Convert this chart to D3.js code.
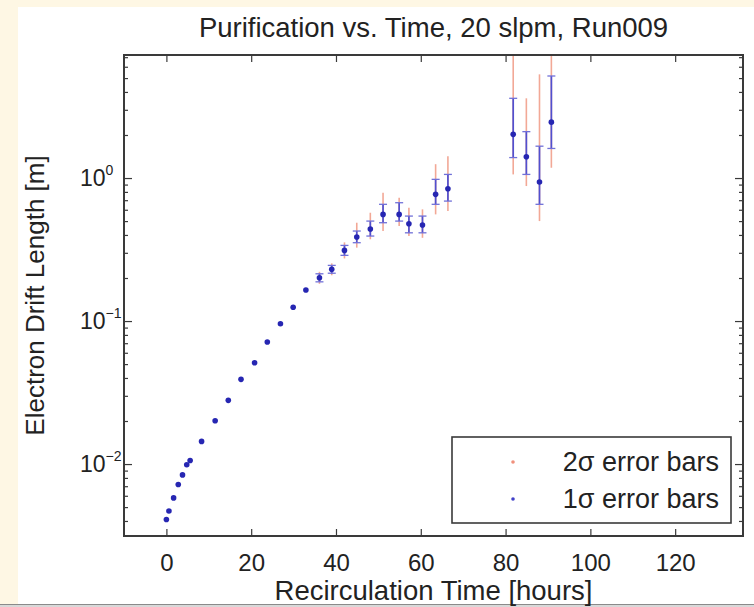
<!DOCTYPE html>
<html>
<head>
<meta charset="utf-8">
<script src="https://cdn.jsdelivr.net/npm/d3@7"></script>
<style>
  html, body { margin: 0; padding: 0; background: #fef7e4; }
  svg { display: block; }
  text { font-family: "Liberation Sans", Arial, sans-serif; fill: #222; }
</style>
</head>
<body>
<div id="wrapper"></div>
<script>
// recirculation time [hours]
const hours = [0, 0.6, 1.7, 2.8, 3.8, 4.8, 5.6, 8.3, 11.5, 14.6, 17.6, 20.8, 23.8, 26.9, 29.9, 32.9,
  36.1, 39.0, 42.0, 44.9, 48.1, 51.1, 54.9, 57.2, 60.4, 63.5, 66.4, 81.8, 84.9, 88.0, 90.8];
// electron drift length [m]
const drift = [0.0041, 0.0047, 0.0058, 0.0072, 0.0084, 0.0099, 0.0106, 0.0144, 0.0201, 0.0279, 0.0391, 0.0511,
  0.0713, 0.0958, 0.125, 0.165, 0.201, 0.230, 0.312, 0.387, 0.440, 0.557, 0.557, 0.479, 0.469, 0.769, 0.842,
  2.02, 1.41, 0.938, 2.46];
// 1 sigma bounds (null = bar hidden under the marker)
const sig1Lo = [null, null, null, null, null, null, null, null, null, null, null, null, null, null, null, null,
  0.188, 0.216, 0.288, 0.353, 0.393, 0.487, 0.500, 0.414, 0.414, 0.655, 0.690, 1.39, 1.06, 0.655, 1.61];
const sig1Hi = [null, null, null, null, null, null, null, null, null, null, null, null, null, null, null, null,
  0.214, 0.245, 0.338, 0.426, 0.500, 0.655, 0.672, 0.542, 0.542, 0.979, 1.06, 3.61, 2.11, 1.67, 5.17];
// 2 sigma bounds
const sig2Lo = [null, null, null, null, null, null, null, null, null, null, null, null, null, null, null, null,
  0.182, 0.209, 0.274, 0.326, 0.373, 0.426, 0.462, 0.393, 0.382, 0.557, 0.588, 1.06, 0.879, 0.500, 1.18];
const sig2Hi = [null, null, null, null, null, null, null, null, null, null, null, null, null, null, null, null,
  0.221, 0.253, 0.355, 0.487, 0.572, 0.789, 0.728, 0.620, 0.604, 1.25, 1.42, 9.0, 3.61, 5.31, 9.0];

const xTicks = [0, 20, 40, 60, 80, 100, 120];
const yTicks = [0.01, 0.1, 1];
const yTickExp = ["\u22122", "\u22121", "0"];
const legendLabels = ["2\u03c3 error bars", "1\u03c3 error bars"];

const dataset = hours.map((h, i) => ({
  h, v: drift[i], lo1: sig1Lo[i], hi1: sig1Hi[i], lo2: sig2Lo[i], hi2: sig2Hi[i]
}));

let dimensions = {
  width: 754,
  height: 607,
  margin: { top: 55, right: 11, bottom: 71, left: 124 },
}
dimensions.boundedWidth = dimensions.width - dimensions.margin.left - dimensions.margin.right
dimensions.boundedHeight = dimensions.height - dimensions.margin.top - dimensions.margin.bottom

const wrapper = d3.select("#wrapper")
  .append("svg")
  .attr("width", dimensions.width)
  .attr("height", dimensions.height);

// white figure panel over the cream page, grey strip at the bottom
wrapper.append("rect")
  .attr("x", 18).attr("y", 7)
  .attr("width", dimensions.width - 18).attr("height", 597)
  .attr("fill", "#fff");
wrapper.append("rect")
  .attr("x", 0).attr("y", 604)
  .attr("width", dimensions.width).attr("height", 3)
  .attr("fill", "#d8d8d8");
wrapper.append("line")
  .attr("x1", 0).attr("x2", dimensions.width)
  .attr("y1", 604.5).attr("y2", 604.5)
  .attr("stroke", "#8a8a8a");

const bounds = wrapper.append("g")
  .attr("transform", `translate(${dimensions.margin.left},${dimensions.margin.top})`);

const xScale = d3.scaleLinear()
  .domain([-10, 136])
  .range([0, dimensions.boundedWidth]);

const yScale = d3.scaleLog()
  .domain([0.00314, 7.25])
  .range([dimensions.boundedHeight, 0]);

bounds.append("clipPath").attr("id", "clip")
  .append("rect")
  .attr("width", dimensions.boundedWidth)
  .attr("height", dimensions.boundedHeight);

const plot = bounds.append("g").attr("clip-path", "url(#clip)");
const withBars = dataset.filter(d => d.lo1 !== null);

// 2 sigma bars (red)
plot.selectAll(".bar2")
  .data(withBars)
  .join("line")
  .attr("x1", d => xScale(d.h)).attr("x2", d => xScale(d.h))
  .attr("y1", d => yScale(d.lo2)).attr("y2", d => yScale(d.hi2))
  .attr("stroke", "#f2a896")
  .attr("stroke-width", 1.6);

// 1 sigma bars (blue) with caps
plot.selectAll(".bar1")
  .data(withBars)
  .join("line")
  .attr("x1", d => xScale(d.h)).attr("x2", d => xScale(d.h))
  .attr("y1", d => yScale(d.lo1)).attr("y2", d => yScale(d.hi1))
  .attr("stroke", "#5050d0")
  .attr("stroke-width", 1.7);

const caps = withBars.flatMap(d => [{ h: d.h, v: d.lo1 }, { h: d.h, v: d.hi1 }]);
plot.selectAll(".cap")
  .data(caps)
  .join("line")
  .attr("x1", d => xScale(d.h) - 4).attr("x2", d => xScale(d.h) + 4)
  .attr("y1", d => yScale(d.v)).attr("y2", d => yScale(d.v))
  .attr("stroke", "#7070d8")
  .attr("stroke-width", 1.3);

plot.selectAll(".dot")
  .data(dataset)
  .join("circle")
  .attr("cx", d => xScale(d.h))
  .attr("cy", d => yScale(d.v))
  .attr("r", 2.8)
  .attr("fill", "#2626b2");

// axes, ticks pointing inward on all four sides
const axisColor = "#3a3a3a";
const styleAxis = g => {
  g.select(".domain").remove();
  g.selectAll(".tick line").attr("stroke", axisColor).attr("stroke-width", 1.2);
};

bounds.append("g")
  .attr("transform", `translate(0,${dimensions.boundedHeight})`)
  .call(d3.axisBottom(xScale).tickValues(xTicks).tickSizeInner(-7).tickSizeOuter(0).tickPadding(18))
  .call(styleAxis)
  .call(g => g.selectAll(".tick text")
    .attr("font-size", 24).attr("fill", "#222")
    .attr("font-family", "Liberation Sans, Arial, sans-serif"));

bounds.append("g")
  .call(d3.axisTop(xScale).tickValues(xTicks).tickSizeInner(-7).tickSizeOuter(0).tickFormat(""))
  .call(styleAxis);

const minorTicks = [];
for (let e = -3; e <= 0; e++) {
  for (let m = 2; m <= 9; m++) {
    const t = m * Math.pow(10, e);
    if (t > yScale.domain()[0] && t < yScale.domain()[1]) minorTicks.push(t);
  }
}

[[d3.axisLeft, 0], [d3.axisRight, dimensions.boundedWidth]].forEach(([axisFn, x0]) => {
  bounds.append("g")
    .attr("transform", `translate(${x0},0)`)
    .call(axisFn(yScale).tickValues(yTicks).tickSizeInner(-8).tickSizeOuter(0).tickFormat(""))
    .call(styleAxis);
  bounds.append("g")
    .attr("transform", `translate(${x0},0)`)
    .call(axisFn(yScale).tickValues(minorTicks).tickSizeInner(-4).tickSizeOuter(0).tickFormat(""))
    .call(styleAxis);
});

// y tick labels as 10 with superscript exponent
const yLabels = bounds.selectAll(".ylab")
  .data(yTicks)
  .join("text")
  .attr("x", -44)
  .attr("y", d => yScale(d) + 8)
  .attr("text-anchor", "start")
  .attr("font-size", 23)
  .attr("fill", "#1e1e70");
yLabels.append("tspan").text("10");
yLabels.append("tspan")
  .attr("dy", -11)
  .attr("font-size", 14)
  .text((d, i) => yTickExp[i]);

// plot box
bounds.append("rect")
  .attr("width", dimensions.boundedWidth)
  .attr("height", dimensions.boundedHeight)
  .attr("fill", "none")
  .attr("stroke", axisColor)
  .attr("stroke-width", 2);

// legend
const legend = bounds.append("g")
  .attr("transform", `translate(${452 - dimensions.margin.left},${437 - dimensions.margin.top})`);
legend.append("rect")
  .attr("width", 279).attr("height", 86)
  .attr("fill", "#fff")
  .attr("stroke", axisColor)
  .attr("stroke-width", 1.6);
const legendColors = ["#f0907c", "#4040c8"];
legend.selectAll("circle")
  .data(legendLabels)
  .join("circle")
  .attr("cx", 61)
  .attr("cy", (d, i) => 25 + i * 37)
  .attr("r", 1.8)
  .attr("fill", (d, i) => legendColors[i]);
legend.selectAll("text")
  .data(legendLabels)
  .join("text")
  .attr("x", 267)
  .attr("y", (d, i) => 34 + i * 37)
  .attr("text-anchor", "end")
  .attr("font-size", 27)
  .text(d => d);

// title and axis labels
wrapper.append("text")
  .attr("x", dimensions.margin.left + dimensions.boundedWidth / 2)
  .attr("y", 37)
  .attr("text-anchor", "middle")
  .attr("font-size", 27.5)
  .text("Purification vs. Time, 20 slpm, Run009");

wrapper.append("text")
  .attr("x", dimensions.margin.left + dimensions.boundedWidth / 2)
  .attr("y", 600)
  .attr("text-anchor", "middle")
  .attr("font-size", 27.5)
  .text("Recirculation Time [hours]");

wrapper.append("text")
  .attr("transform", `translate(44,${dimensions.margin.top + dimensions.boundedHeight / 2}) rotate(-90)`)
  .attr("text-anchor", "middle")
  .attr("font-size", 26)
  .text("Electron Drift Length [m]");
</script>
</body>
</html>
